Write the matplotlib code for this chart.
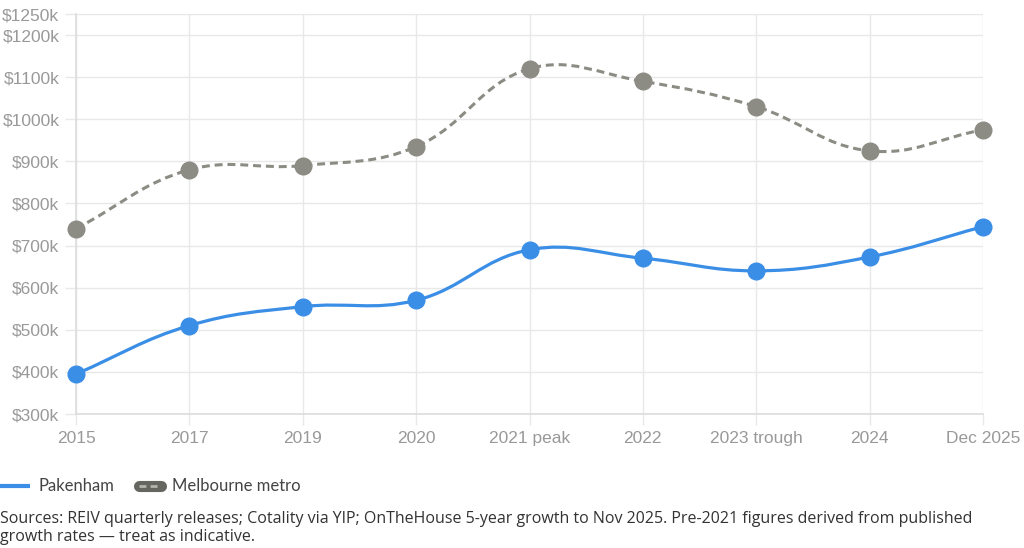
import numpy as np
import matplotlib
matplotlib.use('Agg')
import matplotlib.pyplot as plt
from matplotlib.path import Path
from matplotlib.patches import PathPatch
from matplotlib.lines import Line2D

labels = ['2015', '2017', '2019', '2020', '2021 peak', '2022', '2023 trough', '2024', 'Dec 2025']
pakenham = [395, 510, 555, 570, 690, 670, 640, 673, 745]
melbourne = [740, 880, 890, 935, 1120, 1090, 1030, 925, 975]
y_ticks = [300, 400, 500, 600, 700, 800, 900, 1000, 1100, 1200, 1250]

blue = '#3a8ee6'
grey = '#8c8c84'
grid_c = '#e8e8e8'
tick_c = '#999999'

W, H = 1024, 548
fig = plt.figure(figsize=(W / 100, H / 100), dpi=100)
ax = fig.add_axes([76 / W, 1 - 414 / H, (983 - 76) / W, (414 - 14) / H])
ax.set_xlim(0, len(labels) - 1)
ax.set_ylim(300, 1250)


def spline_path(xs, ys, tension=0.4):
    # bezier through the points, control points as in chart.js
    pts = ax.transData.transform(np.column_stack([xs, ys]))
    n = len(pts)
    verts = [pts[0]]
    codes = [Path.MOVETO]
    cps = []
    for i in range(n):
        p0 = pts[i - 1] if i > 0 else pts[i]
        p1 = pts[i]
        p2 = pts[i + 1] if i < n - 1 else pts[i]
        d01 = np.hypot(*(p1 - p0))
        d12 = np.hypot(*(p2 - p1))
        tot = d01 + d12
        s01 = d01 / tot if tot else 0
        s12 = d12 / tot if tot else 0
        cps.append((p1 - tension * s01 * (p2 - p0), p1 + tension * s12 * (p2 - p0)))
    for i in range(1, n):
        verts += [cps[i - 1][1], cps[i][0], pts[i]]
        codes += [Path.CURVE4] * 3
    verts = ax.transData.inverted().transform(np.array(verts))
    return Path(verts, codes)


x = np.arange(len(labels))

ax.add_patch(PathPatch(spline_path(x, melbourne), fill=False, edgecolor=grey, lw=2.2,
                       linestyle=(0, (2.6, 1.6)), capstyle='butt', zorder=3, clip_on=False))
ax.plot(x, melbourne, 'o', color=grey, ms=12, zorder=4, clip_on=False)

ax.add_patch(PathPatch(spline_path(x, pakenham), fill=False, edgecolor=blue, lw=2.3,
                       zorder=3, clip_on=False))
ax.plot(x, pakenham, 'o', color=blue, ms=12, zorder=4, clip_on=False)

ax.set_xticks(x)
ax.set_xticklabels(labels)
ax.set_yticks(y_ticks)
ax.set_yticklabels([f'${v}k' for v in y_ticks])
ax.grid(True, color=grid_c, lw=1)
ax.set_axisbelow(True)
for s in ['top', 'right']:
    ax.spines[s].set_visible(False)
for s in ['left', 'bottom']:
    ax.spines[s].set_color('#dddddd')
    ax.spines[s].set_linewidth(1.2)
ax.tick_params(length=8, width=1, color=grid_c, labelcolor=tick_c, labelsize=12.5, pad=4)
for t in ax.get_xticklabels() + ax.get_yticklabels():
    t.set_fontfamily('Liberation Sans')

# legend below the chart
fy = 1 - 486 / H
fig.add_artist(Line2D([0, 30 / W], [fy, fy], color=blue, lw=3, solid_capstyle='butt'))
fig.text(38 / W, fy, 'Pakenham', fontsize=12, color='#444444', va='center',
         family='Lato')
fig.add_artist(Line2D([139 / W, 161 / W], [fy, fy], color='#666660', lw=8,
                      solid_capstyle='round'))
fig.add_artist(Line2D([139 / W, 161 / W], [fy, fy], color='#b5b5ae', lw=2,
                      linestyle=(0, (2.5, 1.5))))
fig.text(172 / W, fy, 'Melbourne metro', fontsize=12, color='#444444', va='center',
         family='Lato')

fig.text(0, 1 - 511 / H,
         'Sources: REIV quarterly releases; Cotality via YIP; OnTheHouse 5-year growth to Nov 2025. '
         'Pre-2021 figures derived from published\ngrowth rates \u2014 treat as indicative.',
         fontsize=11.5, color='#333333', va='top', ha='left', family='Open Sans',
         linespacing=1.2)

fig.savefig('out.png', dpi=100)
